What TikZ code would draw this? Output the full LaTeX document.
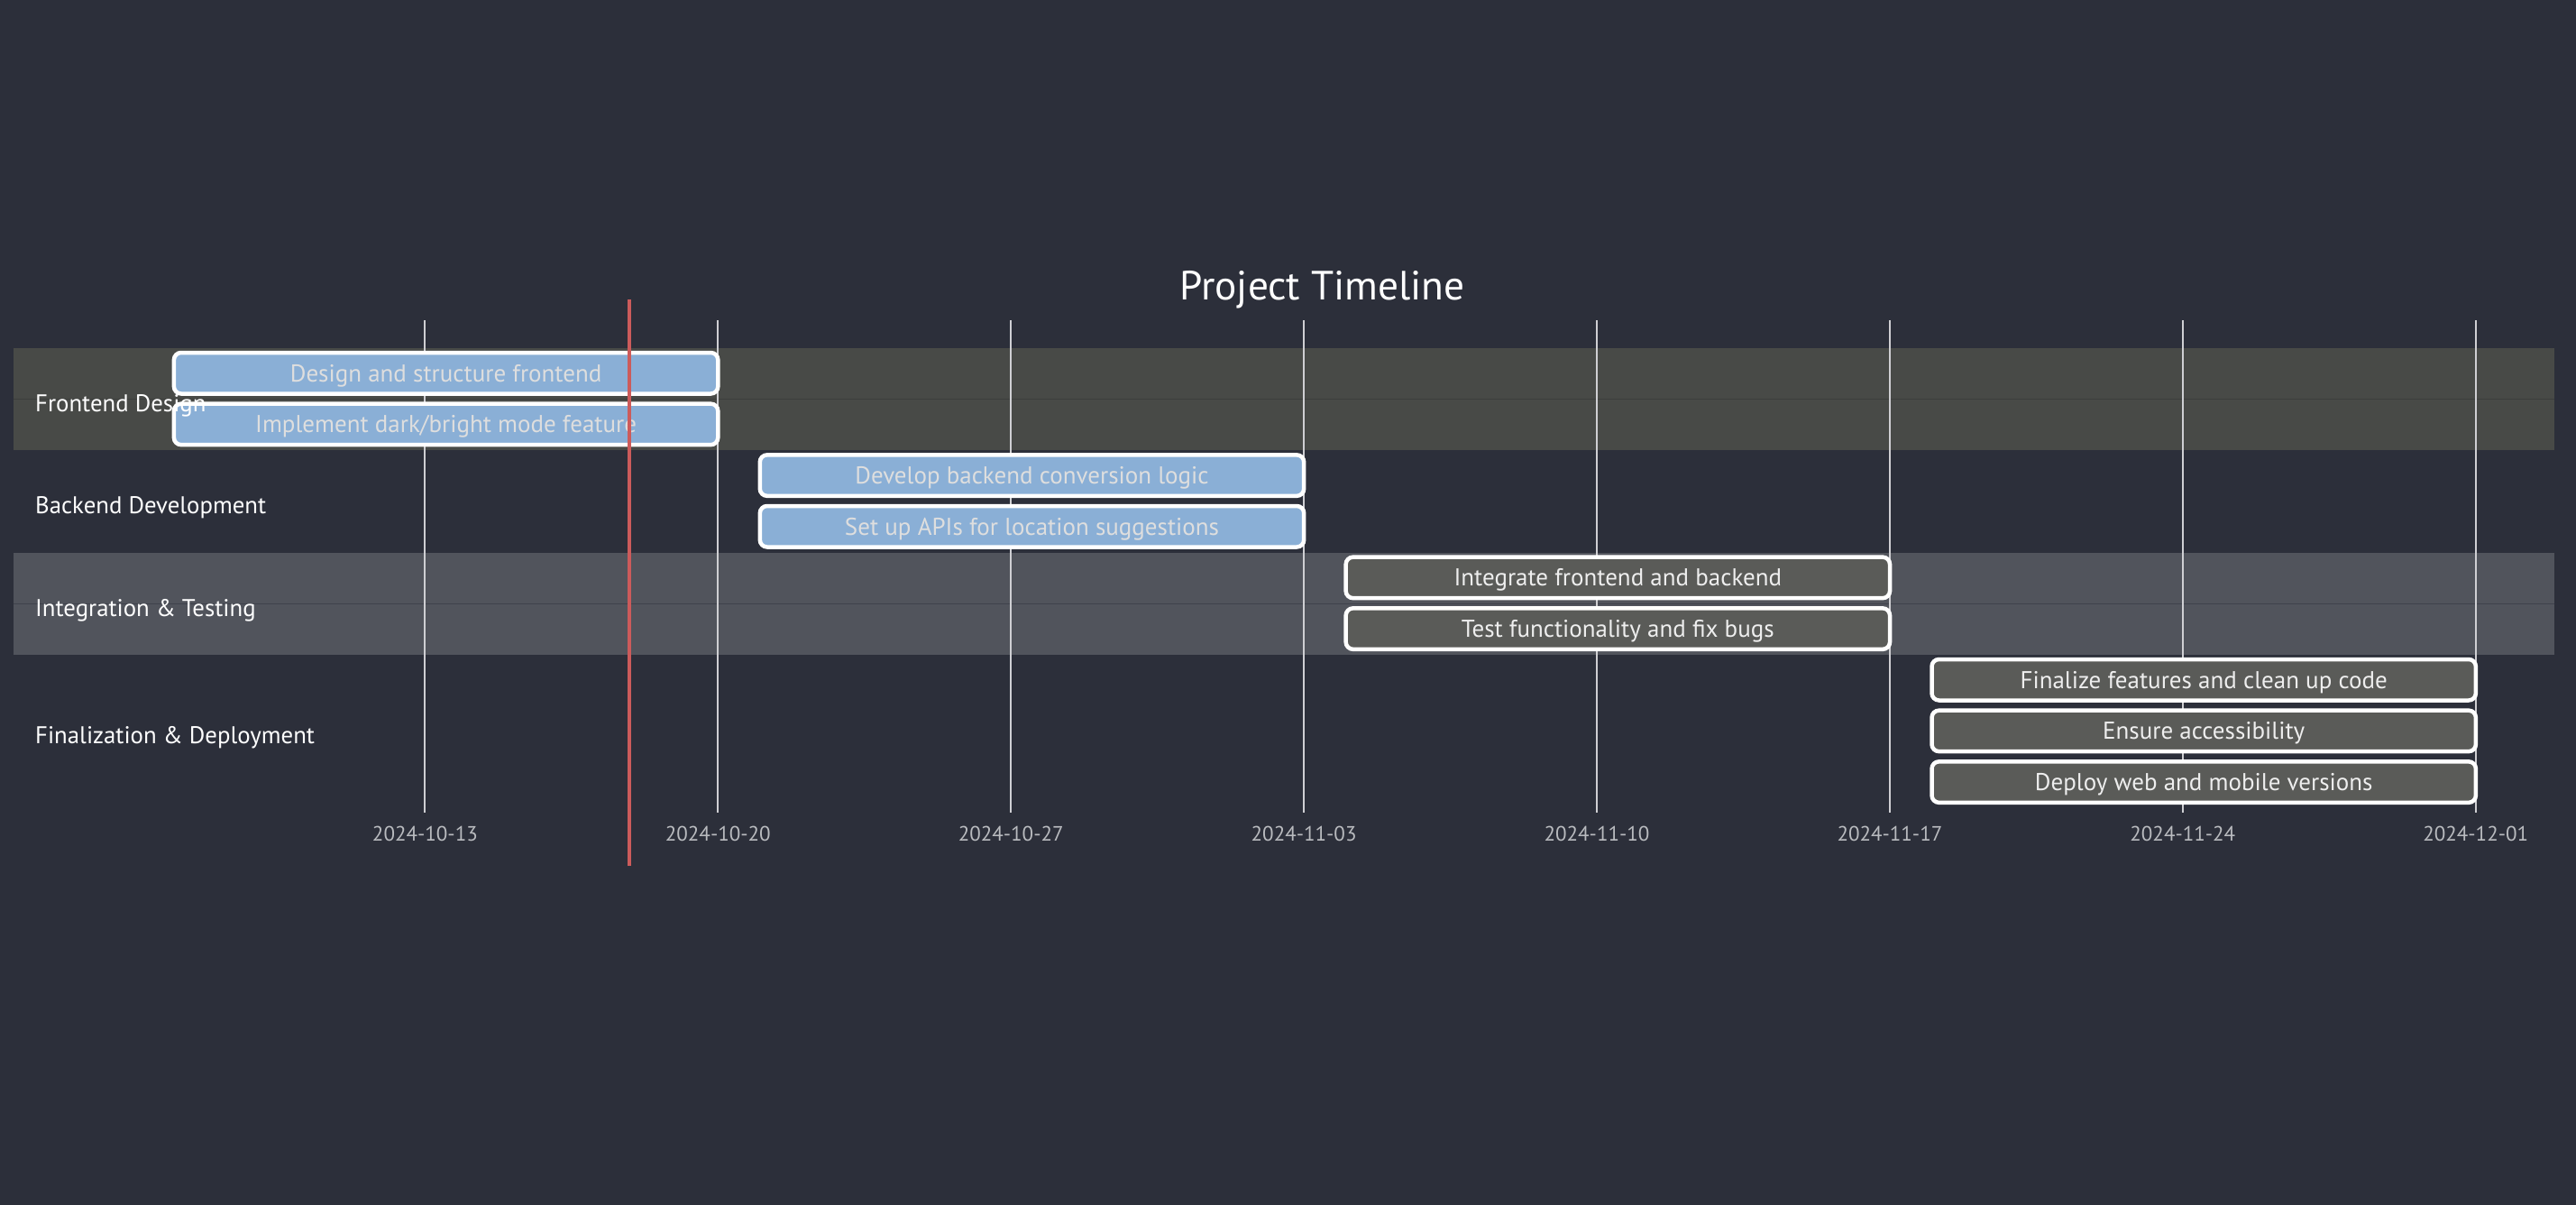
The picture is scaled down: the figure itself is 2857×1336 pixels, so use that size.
\documentclass[tikz,border=0pt]{standalone}
\usepackage{fontspec}
\setmainfont{PT Sans}
\usepackage{tikz}
\usetikzlibrary{positioning}
\definecolor{bgcol}{HTML}{2C2F3A}
\definecolor{bandone}{HTML}{484A47}
\definecolor{bandtwo}{HTML}{51545C}
\definecolor{seamone}{HTML}{3C3E3C}
\definecolor{seamtwo}{HTML}{40434C}
\definecolor{barblue}{HTML}{8AAFD6}
\definecolor{bargray}{HTML}{5A5B58}
\definecolor{bluetext}{HTML}{DEDEDE}
\definecolor{graytext}{HTML}{EEEEEE}
\definecolor{gridgray}{HTML}{CFCFD3}
\definecolor{axisgray}{HTML}{B9BBBF}
\definecolor{todayred}{HTML}{CC5B5B}
\tikzset{
    taskbar/.style={rectangle, draw=white, line width=4.5pt, rounded corners=8pt, minimum width=603.4pt, minimum height=45.5pt, inner sep=0pt, text height=19pt, text depth=0pt, font=\fontsize{27}{32}\selectfont},
    activebar/.style={taskbar, fill=barblue, text=bluetext},
    plainbar/.style={taskbar, fill=bargray, text=graytext},
    sectionlabel/.style={anchor=base west, inner sep=0pt, text=white, font=\fontsize{26.8}{32}\selectfont},
    datelabel/.style={anchor=base, inner sep=0pt, text=axisgray, font=\fontsize{23}{28}\selectfont},
    gridline/.style={draw=gridgray, line width=2pt},
    todayline/.style={draw=todayred, line width=4.7pt}
}
\begin{document}
\begin{tikzpicture}[x=1pt, y=-1pt]
            \fill[bgcol] (0,0) rectangle (2857,1336);
            \useasboundingbox (0,0) rectangle (2857,1336);

            % section bands
            \fill[bandone] (15,386) rectangle (2833,499.3);
            \fill[bandtwo] (15,612.7) rectangle (2833,726);
            \draw[seamone, line width=1.5pt] (15,442.7) -- (2833,442.7);
            \draw[seamtwo, line width=1.5pt] (15,669.3) -- (2833,669.3);

            % weekly grid and dates
            \foreach \k/\lab in {0/2024-10-13, 1/2024-10-20, 2/2024-10-27, 3/2024-11-03, 4/2024-11-10, 5/2024-11-17, 6/2024-11-24, 7/2024-12-01} {
                \draw[gridline] ({471.4+324.9*\k},355) -- ({471.4+324.9*\k},901);
                \node[datelabel] (date\k) at ({471.4+324.9*\k},932) {\lab};
            }

            % tasks
            \node[activebar] (design) at (494.6,413.75) {Design and structure frontend};
            \node[activebar] (darkmode) at (494.6,470.4) {Implement dark/bright mode feature};
            \node[activebar] (backend) at (1144.5,527.1) {Develop backend conversion logic};
            \node[activebar] (apis) at (1144.5,583.75) {Set up APIs for location suggestions};
            \node[plainbar] (integrate) at (1794.35,640.4) {Integrate frontend and backend};
            \node[plainbar] (testing) at (1794.35,697.1) {Test functionality and fix bugs};
            \node[plainbar] (finalize) at (2444.2,753.75) {Finalize features and clean up code};
            \node[plainbar] (access) at (2444.2,810.4) {Ensure accessibility};
            \node[plainbar] (deploy) at (2444.2,867.1) {Deploy web and mobile versions};

            % sections
            \node[sectionlabel] (secfront) at (39,456) {Frontend Design};
            \node[sectionlabel] (secback) at (39,569.5) {Backend Development};
            \node[sectionlabel] (secinteg) at (39,683) {Integration \& Testing};
            \node[sectionlabel] (secfinal) at (39,824.5) {Finalization \& Deployment};

            \node[anchor=base, inner sep=0pt, text=white, font=\fontsize{45.3}{52}\selectfont] (title) at (1466.5,332) {Project Timeline};

            % today marker
            \draw[todayline] (698,332) -- (698,960);
        \end{tikzpicture}
\end{document}
